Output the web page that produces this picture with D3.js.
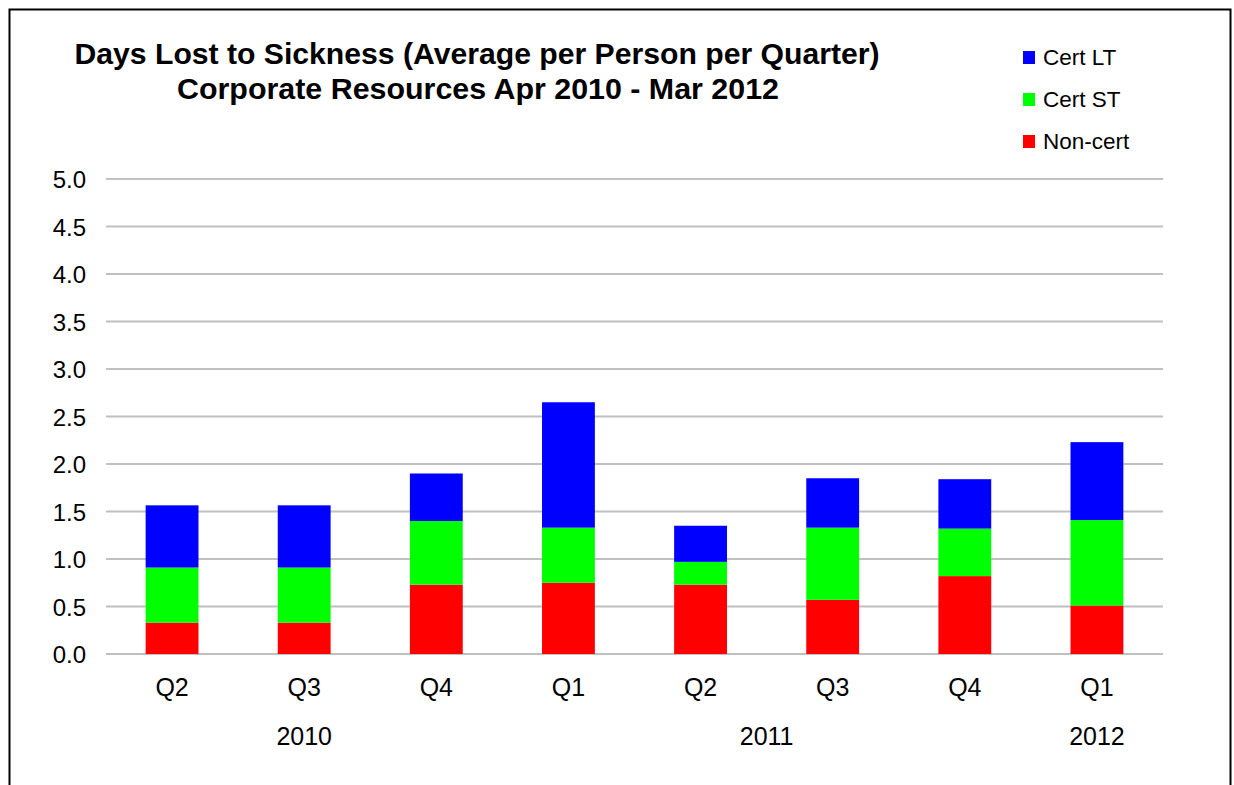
<!DOCTYPE html>
<html><head><meta charset="utf-8">
<script src="https://cdn.jsdelivr.net/npm/d3@7"></script>
<style>body{margin:0;background:#fff}svg{display:block}text{font-family:"Liberation Sans",Arial,sans-serif}</style>
</head><body>
<svg id="c" width="1234" height="785"></svg>
<script>
const quarters = ["Q2","Q3","Q4","Q1","Q2","Q3","Q4","Q1"];
const years = [{label:"2010", start:0, end:2},{label:"2011", start:3, end:6},{label:"2012", start:7, end:7}];
const seriesNames = ["Non-cert","Cert ST","Cert LT"];
const nonCert = [0.33,0.33,0.73,0.75,0.73,0.57,0.82,0.51];
const certST  = [0.58,0.58,0.67,0.58,0.24,0.76,0.50,0.90];
const certLT  = [0.655,0.655,0.50,1.32,0.38,0.52,0.52,0.82];
const colors = {"Non-cert":"#ff0000","Cert ST":"#00ff00","Cert LT":"#0000ff"};
const yTicks = [0,0.5,1,1.5,2,2.5,3,3.5,4,4.5,5];
const titleLines = ["Days Lost to Sickness (Average per Person per Quarter)","Corporate Resources Apr 2010 - Mar 2012"];

const svg = d3.select("#c");
// frame
svg.append("path").attr("d","M9.5,790V9.5H1230.5V790").attr("fill","none").attr("stroke","#000").attr("stroke-width",2);

const L=106, R=1163, T=179, B=654;
const x = d3.scaleBand().domain(d3.range(quarters.length)).range([L,R]).paddingInner(0.6).paddingOuter(0.3);
const y = d3.scaleLinear().domain([0,5]).range([B,T]);

// gridlines
svg.append("g").selectAll("line").data(yTicks).join("line")
  .attr("x1",L).attr("x2",R).attr("y1",d=>y(d)).attr("y2",d=>y(d))
  .attr("stroke","#c0c0c0").attr("stroke-width",2);

// y labels
svg.append("g").selectAll("text").data(yTicks).join("text")
  .attr("x",86).attr("y",d=>y(d)+9).attr("text-anchor","end")
  .attr("font-size",24).text(d=>d.toFixed(1));

const rows = quarters.map((q,i)=>({i, "Non-cert":nonCert[i], "Cert ST":certST[i], "Cert LT":certLT[i]}));
const stack = d3.stack().keys(seriesNames)(rows);
svg.append("g").selectAll("g").data(stack).join("g").attr("fill",d=>colors[d.key])
  .selectAll("rect").data(d=>d).join("rect")
  .attr("x",d=>x(d.data.i)).attr("width",x.bandwidth())
  .attr("y",d=>y(d[1])).attr("height",d=>y(d[0])-y(d[1]));

// quarter labels
svg.append("g").selectAll("text").data(quarters).join("text")
  .attr("x",(d,i)=>x(i)+x.bandwidth()/2).attr("y",696).attr("text-anchor","middle")
  .attr("font-size",25).text(d=>d);
// year labels
svg.append("g").selectAll("text").data(years).join("text")
  .attr("x",d=>(x(d.start)+x(d.end)+x.bandwidth())/2).attr("y",745).attr("text-anchor","middle")
  .attr("font-size",25).text(d=>d.label);

// title
svg.append("text").attr("x",477).attr("y",64).attr("text-anchor","middle").attr("font-size",29).attr("font-weight","bold")
  .attr("textLength",805).attr("lengthAdjust","spacingAndGlyphs").text(titleLines[0]);
svg.append("text").attr("x",478).attr("y",99).attr("text-anchor","middle").attr("font-size",29).attr("font-weight","bold")
  .attr("textLength",602).attr("lengthAdjust","spacingAndGlyphs").text(titleLines[1]);

// legend
const legendKeys = ["Cert LT","Cert ST","Non-cert"];
const lg = svg.append("g").selectAll("g").data(legendKeys).join("g")
  .attr("transform",(d,i)=>`translate(1023,${51+i*42})`);
lg.append("rect").attr("width",12).attr("height",13).attr("fill",d=>colors[d]);
lg.append("text").attr("x",20).attr("y",14).attr("font-size",22.5).text(d=>d);
</script>
</body></html>
